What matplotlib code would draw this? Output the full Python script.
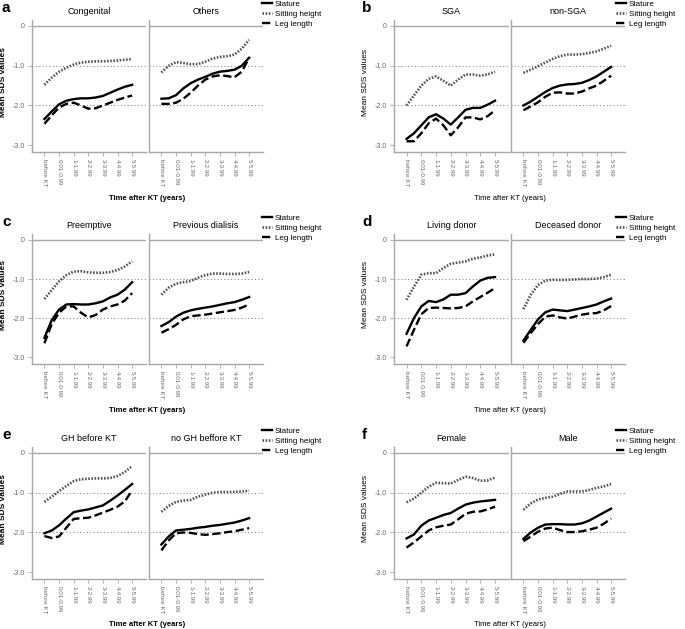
import matplotlib
matplotlib.use('Agg')
import matplotlib.pyplot as plt
from matplotlib.lines import Line2D

plt.rcParams['font.family'] = ['Liberation Sans', 'DejaVu Sans']

W, H = 685, 629

time_pos = [0, 0.5, 1, 1.5, 2, 2.5, 3, 3.5, 4, 4.5, 5, 5.5, 6]
tick_pos = [0, 1, 2, 3, 4, 5, 6]
tick_labels = ['before KT', '0.01-0.99', '1-1.99', '2-2.99', '3-3.99', '4-4.99', '5-5.99']
series_names = ['Stature', 'Sitting height', 'Leg length']

# a - Congenital / Others
congenital_stature = [-2.34, -2.15, -1.97, -1.88, -1.84, -1.82, -1.82, -1.80, -1.76, -1.68, -1.60, -1.53, -1.48]
congenital_sitting = [-1.48, -1.30, -1.15, -1.05, -0.97, -0.92, -0.90, -0.89, -0.89, -0.88, -0.87, -0.85, -0.83]
congenital_leg = [-2.46, -2.25, -2.05, -1.96, -1.93, -2.00, -2.08, -2.07, -2.00, -1.93, -1.86, -1.80, -1.75]
others_stature = [-1.83, -1.82, -1.74, -1.57, -1.44, -1.35, -1.28, -1.20, -1.15, -1.13, -1.10, -1.00, -0.80]
others_sitting = [-1.17, -1.00, -0.91, -0.93, -0.96, -0.96, -0.90, -0.82, -0.78, -0.76, -0.72, -0.57, -0.35]
others_leg = [-1.96, -1.96, -1.93, -1.83, -1.68, -1.50, -1.35, -1.27, -1.24, -1.26, -1.29, -1.15, -0.80]

# b - SGA / non-SGA
sga_stature = [-2.84, -2.70, -2.50, -2.30, -2.22, -2.33, -2.48, -2.30, -2.11, -2.06, -2.06, -1.98, -1.88]
sga_sitting = [-2.00, -1.75, -1.50, -1.33, -1.27, -1.38, -1.50, -1.35, -1.22, -1.22, -1.25, -1.22, -1.15]
sga_leg = [-2.90, -2.90, -2.70, -2.45, -2.33, -2.50, -2.75, -2.55, -2.30, -2.30, -2.35, -2.27, -2.12]
nonsga_stature = [-2.00, -1.90, -1.78, -1.66, -1.56, -1.50, -1.47, -1.46, -1.43, -1.36, -1.27, -1.15, -1.03]
nonsga_sitting = [-1.18, -1.10, -1.01, -0.92, -0.83, -0.76, -0.72, -0.72, -0.71, -0.68, -0.64, -0.57, -0.50]
nonsga_leg = [-2.12, -2.02, -1.92, -1.78, -1.68, -1.67, -1.70, -1.70, -1.65, -1.57, -1.50, -1.38, -1.25]

# c - Preemptive / Previous dialisis
preempt_stature = [-2.50, -2.05, -1.78, -1.65, -1.64, -1.65, -1.65, -1.62, -1.57, -1.47, -1.40, -1.27, -1.08]
preempt_sitting = [-1.51, -1.28, -1.06, -0.90, -0.81, -0.80, -0.83, -0.84, -0.84, -0.82, -0.77, -0.68, -0.55]
preempt_leg = [-2.64, -2.15, -1.86, -1.70, -1.70, -1.86, -1.98, -1.92, -1.78, -1.70, -1.65, -1.55, -1.36]
dialysis_stature = [-2.20, -2.10, -1.96, -1.86, -1.80, -1.76, -1.73, -1.70, -1.66, -1.62, -1.59, -1.53, -1.46]
dialysis_sitting = [-1.40, -1.22, -1.12, -1.08, -1.05, -0.97, -0.90, -0.86, -0.86, -0.87, -0.87, -0.86, -0.82]
dialysis_leg = [-2.37, -2.28, -2.17, -2.03, -1.95, -1.93, -1.91, -1.88, -1.85, -1.82, -1.79, -1.73, -1.65]

# d - Living donor / Deceased donor
living_stature = [-2.40, -2.00, -1.70, -1.56, -1.59, -1.52, -1.40, -1.40, -1.36, -1.19, -1.04, -0.97, -0.95]
living_sitting = [-1.53, -1.20, -0.89, -0.85, -0.85, -0.72, -0.61, -0.58, -0.55, -0.48, -0.45, -0.40, -0.37]
living_leg = [-2.72, -2.30, -1.90, -1.74, -1.73, -1.74, -1.75, -1.74, -1.70, -1.57, -1.46, -1.35, -1.23]
deceased_stature = [-2.57, -2.30, -2.03, -1.85, -1.78, -1.80, -1.82, -1.78, -1.74, -1.70, -1.65, -1.57, -1.50]
deceased_sitting = [-1.77, -1.40, -1.15, -1.04, -1.02, -1.02, -1.02, -1.01, -1.00, -1.00, -0.99, -0.95, -0.89]
deceased_leg = [-2.63, -2.38, -2.15, -1.96, -1.93, -1.98, -2.01, -1.96, -1.91, -1.88, -1.87, -1.80, -1.69]

# e - GH before KT / no GH beffore KT
gh_stature = [-2.02, -1.95, -1.82, -1.65, -1.49, -1.45, -1.42, -1.37, -1.32, -1.20, -1.07, -0.93, -0.78]
gh_sitting = [-1.23, -1.10, -0.96, -0.83, -0.71, -0.66, -0.65, -0.64, -0.64, -0.63, -0.58, -0.48, -0.33]
gh_leg = [-2.09, -2.14, -2.10, -1.88, -1.66, -1.64, -1.63, -1.57, -1.50, -1.43, -1.35, -1.22, -0.94]
nogh_stature = [-2.30, -2.10, -1.95, -1.93, -1.91, -1.88, -1.86, -1.83, -1.81, -1.78, -1.75, -1.70, -1.64]
nogh_sitting = [-1.48, -1.33, -1.23, -1.20, -1.18, -1.10, -1.05, -1.00, -0.98, -0.98, -0.98, -0.97, -0.95]
nogh_leg = [-2.45, -2.20, -2.02, -2.00, -2.01, -2.04, -2.06, -2.04, -2.02, -1.99, -1.97, -1.93, -1.89]

# f - Female / Male
female_stature = [-2.15, -2.05, -1.83, -1.70, -1.63, -1.56, -1.51, -1.40, -1.30, -1.25, -1.22, -1.20, -1.18]
female_sitting = [-1.24, -1.15, -1.00, -0.85, -0.75, -0.76, -0.77, -0.68, -0.60, -0.63, -0.70, -0.69, -0.62]
female_leg = [-2.38, -2.25, -2.10, -1.95, -1.87, -1.83, -1.80, -1.67, -1.53, -1.48, -1.47, -1.42, -1.35]
male_stature = [-2.16, -2.00, -1.88, -1.80, -1.79, -1.79, -1.80, -1.80, -1.77, -1.70, -1.60, -1.50, -1.40]
male_sitting = [-1.43, -1.27, -1.17, -1.13, -1.10, -1.03, -0.97, -0.97, -0.97, -0.93, -0.88, -0.84, -0.78]
male_leg = [-2.22, -2.10, -1.98, -1.90, -1.88, -1.94, -1.99, -1.99, -1.97, -1.93, -1.88, -1.78, -1.65]

panels = [
    ('a', ['Congenital', 'Others'],
     [(congenital_stature, congenital_sitting, congenital_leg), (others_stature, others_sitting, others_leg)]),
    ('b', ['SGA', 'non-SGA'],
     [(sga_stature, sga_sitting, sga_leg), (nonsga_stature, nonsga_sitting, nonsga_leg)]),
    ('c', ['Preemptive', 'Previous dialisis'],
     [(preempt_stature, preempt_sitting, preempt_leg), (dialysis_stature, dialysis_sitting, dialysis_leg)]),
    ('d', ['Living donor', 'Deceased donor'],
     [(living_stature, living_sitting, living_leg), (deceased_stature, deceased_sitting, deceased_leg)]),
    ('e', ['GH before KT', 'no GH beffore KT'],
     [(gh_stature, gh_sitting, gh_leg), (nogh_stature, nogh_sitting, nogh_leg)]),
    ('f', ['Female', 'Male'],
     [(female_stature, female_sitting, female_leg), (male_stature, male_sitting, male_leg)]),
]

GRAY = '#a8a8a8'
TXT = '#6a6a6a'
styles = [
    dict(color='black', lw=1.7, ls='-', solid_joinstyle='round'),
    dict(color='#505050', lw=1.9, ls=(0, (0.6, 0.6))),
    dict(color='black', lw=1.7, ls=(0, (3.5, 1.5)), dash_joinstyle='round'),
]

rows = [(20, 152), (234, 364), (447, 579)]
cols = [[(32, 146), (149, 263)], [(394, 509), (511, 625)]]
legend_x = [262, 616]

fig = plt.figure(figsize=(W / 100, H / 100), dpi=100)


def rect(x0, x1, yt, yb):
    return [x0 / W, 1 - yb / H, (x1 - x0) / W, (yb - yt) / H]


for i, (letter, titles, data) in enumerate(panels):
    r, c = i // 2, i % 2
    yt, yb = rows[r]
    weight = 'bold' if c == 0 else 'normal'
    for j in range(2):
        x0, x1 = cols[c][j]
        ax = fig.add_axes(rect(x0, x1, yt, yb))
        ax.set_xlim(-0.85, 6.95)
        ax.set_ylim(-3.17, 0.15)
        for s in ['top', 'right']:
            ax.spines[s].set_visible(False)
        for s in ['left', 'bottom']:
            ax.spines[s].set_color(GRAY)
            ax.spines[s].set_linewidth(1.0)
        ax.axhline(0, color=GRAY, lw=1.0)
        for yv in [-1, -2]:
            ax.axhline(yv, color='#777777', lw=0.7, ls=(0, (1, 2.5)))
        for vals, st in zip(data[j], styles):
            ax.plot(time_pos, vals, **st)
        ax.set_xticks(tick_pos)
        ax.set_xticklabels(tick_labels, rotation=270, fontsize=4.5, color=TXT)
        ax.tick_params(axis='x', length=3, width=0.6, color=GRAY, pad=2)
        if j == 0:
            ax.set_yticks([0, -1, -2, -3])
            ax.set_yticklabels(['.0', '-1.0', '-2.0', '-3.0'], fontsize=5, color=TXT)
            ax.tick_params(axis='y', length=3, width=0.6, color=GRAY, pad=2)
        else:
            ax.set_yticks([])
        ax.set_title(titles[j], fontsize=6.5, pad=4)

    lx = cols[c][0][0]
    rx = cols[c][1][1]
    fig.text((2 + 360 * c) / W, 1 - (yt - 12) / H, letter, fontsize=11, fontweight='bold',
             ha='left', va='center')
    fig.text((4 + 362 * c) / W, 1 - ((yt + yb) / 2 - 4) / H, 'Mean SDS values', rotation=90,
             fontsize=6, fontweight=weight, ha='center', va='center')
    fig.text(((lx + rx) / 2) / W, 1 - (yb + 46) / H, 'Time after KT (years)', fontsize=5.5,
             fontweight=weight, ha='center', va='center')
    handles = [Line2D([0], [0], **st) for st in styles]
    fig.legend(handles, series_names, loc='upper left',
               bbox_to_anchor=(legend_x[c] / W, 1 - (yt - 20) / H),
               frameon=False, fontsize=5.8, handlelength=1.3, handletextpad=0.3,
               labelspacing=0.3, borderpad=0, borderaxespad=0)

plt.savefig('out.png', dpi=100)
